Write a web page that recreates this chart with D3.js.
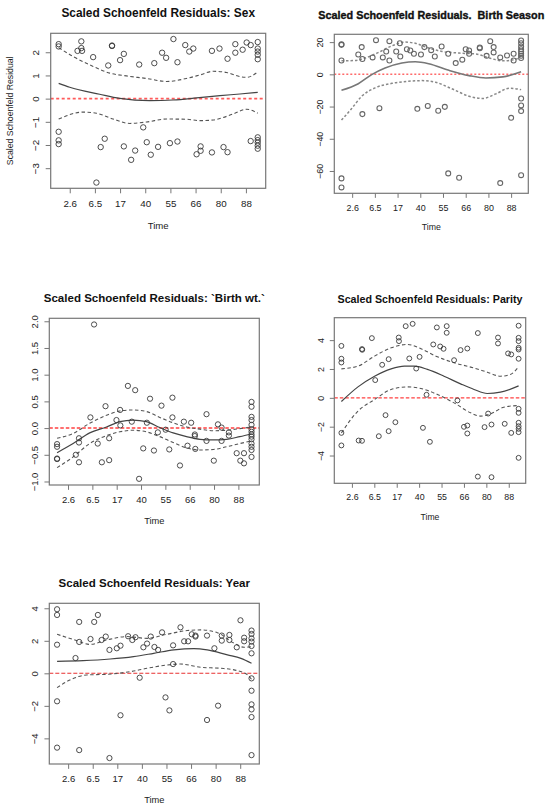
<!DOCTYPE html>
<html>
<head>
<meta charset="utf-8">
<script src="https://cdn.jsdelivr.net/npm/d3@7"></script>
<style>
  html, body { margin: 0; padding: 0; background: #fff; }
  svg { display: block; font-family: "Liberation Sans", Arial, sans-serif; }
  text { white-space: pre; }
</style>
</head>
<body>
<svg id="chart" width="550" height="811"></svg>
<script>
// ---------------- DATA ----------------
// x positions are on the transformed (KM) time axis; tick labels are the time values
const tickPos = [1, 2, 3, 4, 5, 6, 7, 8];
const tickLabels = ["2.6", "6.5", "17", "40", "55", "66", "80", "88"];

// Panel: Sex
const sexPoints = [
  [0.56,2.35],[0.56,2.25],[0.56,-1.43],[0.56,-1.80],[0.56,-1.96],
  [1.31,2.06],[1.46,2.47],[1.46,2.18],[1.49,2.06],[1.93,1.79],[2.06,-3.62],[2.23,-2.09],[2.39,-1.73],
  [2.53,1.43],[2.68,2.29],[2.68,2.27],[3.00,1.66],[3.15,1.93],[3.15,-2.06],[3.44,-2.64],[3.60,-2.24],
  [3.76,1.47],[3.92,-1.24],[4.06,-1.88],[4.22,-2.42],[4.36,1.53],[4.51,-2.08],[4.67,1.98],[4.83,1.76],
  [4.98,-1.92],[5.12,2.57],[5.28,1.57],[5.28,-1.85],[5.59,2.31],[5.75,2.03],[5.91,2.16],[6.04,-2.40],
  [6.20,-2.06],[6.20,-2.25],[6.65,2.06],[6.65,-2.32],[6.95,2.16],[7.11,-2.09],[7.27,1.72],[7.27,-2.31],
  [7.58,2.35],[7.58,1.98],[7.87,2.11],[8.03,2.42],[8.19,2.31],[8.19,-1.83],
  [8.47,2.44],[8.47,2.16],[8.47,2.03],[8.47,1.89],[8.47,1.70],
  [8.47,-1.67],[8.47,-1.79],[8.47,-1.90],[8.47,-2.03],[8.47,-2.16]
];
const sexFit = [[0.56,0.66],[1.00,0.49],[2.19,0.19],[2.99,0.01],[4.18,-0.09],[5.11,-0.06],[6.04,0.03],[6.97,0.13],[7.76,0.20],[8.47,0.27]];
const sexUpper = [[0.56,2.20],[1.13,1.82],[1.93,1.39],[2.59,1.10],[3.25,0.98],[4.05,0.87],[4.85,0.74],[5.64,0.87],[6.17,1.02],[6.70,1.18],[7.23,1.13],[7.76,0.95],[8.03,0.92],[8.47,1.15]];
const sexLower = [[0.56,-0.88],[1.53,-0.58],[2.06,-0.63],[2.72,-0.88],[3.39,-1.07],[4.05,-1.01],[4.85,-0.88],[5.64,-0.89],[6.17,-0.95],[6.70,-0.92],[7.50,-0.66],[8.03,-0.46],[8.47,-0.63]];

// Panel: Birth Season
const seasonPoints = [
  [0.53,18.7],[0.53,18.3],[0.53,8.6],[0.53,-64.6],[0.53,-70.2],
  [1.27,12.3],[1.42,16.9],[1.45,9.5],[1.45,-24.7],[1.90,10.5],[2.05,21.2],[2.20,-21.0],[2.35,10.5],
  [2.50,14.2],[2.64,20.6],[2.64,8.6],[2.94,14.2],[3.10,19.3],[3.12,11.1],[3.41,15.6],[3.56,14.8],
  [3.72,12.8],[3.87,-21.4],[4.03,12.3],[4.18,16.9],[4.33,-19.6],[4.48,15.0],[4.64,11.1],[4.79,-22.6],
  [4.94,17.3],[5.08,-20.2],[5.23,12.8],[5.23,-61.5],[5.56,7.0],[5.71,-64.2],[5.85,9.1],[6.00,15.6],
  [6.15,14.8],[6.15,12.8],[6.62,16.7],[6.62,16.2],[6.92,11.5],[7.08,20.6],[7.23,16.9],[7.23,13.6],
  [7.52,10.5],[7.52,-67.5],[7.82,11.7],[8.00,-27.0],[8.11,12.8],[8.11,8.6],
  [8.44,21.0],[8.44,19.3],[8.44,17.3],[8.44,15.6],[8.44,14.2],[8.44,12.8],[8.44,11.5],[8.44,10.1],
  [8.44,-15.0],[8.44,-19.3],[8.44,-22.8],[8.44,-62.6]
];
const seasonFit = [[0.53,-9.9],[1.27,-5.8],[1.86,-0.2],[2.45,3.9],[3.19,7.0],[3.78,7.8],[4.37,6.6],[5.26,2.5],[6.15,-0.8],[6.89,-2.3],[7.63,-1.6],[8.44,1.6]];
const seasonUpper = [[0.53,8.4],[1.12,8.6],[1.56,10.1],[2.16,13.6],[2.75,17.7],[3.34,20.0],[3.78,19.3],[4.37,16.3],[4.96,14.2],[5.71,13.2],[6.45,12.6],[7.04,10.1],[7.63,8.4],[8.22,9.5],[8.44,11.5]];
const seasonLower = [[0.53,-28.4],[0.97,-21.4],[1.42,-13.6],[2.01,-8.4],[2.75,-5.6],[3.49,-4.3],[4.08,-3.9],[4.67,-4.9],[5.41,-9.1],[6.15,-13.6],[6.74,-15.0],[7.33,-12.1],[7.92,-8.6],[8.44,-9.5]];

// Panel: Birth wt.
const bwPoints = [
  [0.55,-0.30],[0.55,-0.35],[0.55,-0.57],[0.55,-0.58],
  [1.32,-0.50],[1.45,-0.19],[1.45,-0.27],[1.45,-0.64],[1.92,0.20],[2.07,1.94],[2.22,-0.29],[2.39,-0.64],
  [2.54,0.41],[2.69,-0.19],[2.69,-0.60],[2.99,0.15],[3.14,0.34],[3.15,0.05],[3.46,0.79],[3.62,0.12],
  [3.76,0.71],[3.92,-0.95],[4.09,-0.38],[4.24,0.10],[4.37,0.55],[4.53,-0.42],[4.69,-0.08],[4.84,0.42],
  [5.01,-0.03],[5.16,-0.40],[5.29,0.57],[5.29,0.20],[5.60,-0.70],[5.76,0.12],[5.91,-0.33],[6.06,0.10],
  [6.21,-0.12],[6.21,-0.15],[6.23,-0.39],[6.69,0.26],[6.69,-0.24],[6.99,-0.61],[7.16,0.07],[7.31,0.01],
  [7.31,-0.24],[7.61,-0.08],[7.61,-0.14],[7.93,-0.47],[8.08,-0.61],[8.23,-0.66],[8.23,-0.47],
  [8.54,0.49],[8.54,0.40],[8.54,0.21],[8.54,0.15],[8.54,0.06],[8.54,-0.02],[8.54,-0.07],[8.54,-0.12],
  [8.54,-0.16],[8.54,-0.21],[8.54,-0.29],[8.54,-0.35],[8.54,-0.41],[8.54,-0.54]
];
const bwFit = [[0.55,-0.46],[1.21,-0.29],[1.89,-0.09],[2.58,0.02],[3.13,0.12],[3.67,0.15],[4.22,0.12],[4.77,0.01],[5.32,-0.09],[5.87,-0.16],[6.42,-0.21],[6.97,-0.22],[7.52,-0.21],[8.06,-0.16],[8.54,-0.11]];
const bwUpper = [[0.55,-0.19],[1.21,-0.10],[1.89,0.09],[2.58,0.24],[3.13,0.32],[3.67,0.34],[4.22,0.31],[4.77,0.20],[5.32,0.10],[5.87,0.02],[6.42,-0.02],[6.97,-0.05],[7.52,-0.04],[8.06,-0.01],[8.54,0.02]];
const bwLower = [[0.55,-0.74],[1.21,-0.54],[1.89,-0.29],[2.58,-0.14],[3.13,-0.07],[3.67,-0.04],[4.22,-0.07],[4.77,-0.16],[5.32,-0.27],[5.87,-0.37],[6.42,-0.41],[6.97,-0.40],[7.52,-0.35],[8.06,-0.29],[8.54,-0.24]];

// Panel: Parity
const parityPoints = [
  [0.53,3.60],[0.53,2.71],[0.53,2.45],[0.53,-2.43],[0.53,-3.30],
  [1.30,-2.96],[1.45,3.38],[1.45,-2.98],[1.46,3.33],[1.89,4.14],[2.04,1.23],[2.20,-2.66],[2.35,2.29],
  [2.50,-1.20],[2.64,2.68],[2.64,-2.31],[2.94,-1.69],[3.09,4.18],[3.10,3.93],[3.40,4.97],[3.56,2.73],
  [3.71,5.13],[3.87,2.03],[4.02,2.84],[4.17,-2.08],[4.33,0.21],[4.48,-3.05],[4.63,3.70],[4.79,4.88],
  [4.94,3.56],[5.09,3.40],[5.23,4.97],[5.23,4.51],[5.56,2.61],[5.71,-0.18],[5.85,3.31],[6.00,-2.01],
  [6.15,3.42],[6.15,-1.92],[6.15,-2.47],[6.62,4.49],[6.62,-5.46],[6.92,-2.03],[7.08,-1.09],[7.23,-1.85],
  [7.23,-5.50],[7.52,4.18],[7.52,3.77],[7.82,-1.80],[7.97,3.08],[8.11,3.01],[8.11,-2.43],
  [8.44,5.00],[8.44,4.16],[8.44,3.93],[8.44,3.47],[8.44,3.35],[8.44,2.71],
  [8.44,-0.76],[8.44,-1.04],[8.44,-1.73],[8.44,-1.97],[8.44,-2.15],[8.44,-2.38],[8.44,-4.16]
];
const parityFit = [[0.53,-0.25],[1.27,0.76],[2.01,1.50],[2.75,2.01],[3.34,2.20],[3.78,2.20],[4.37,1.97],[5.11,1.50],[5.85,0.97],[6.45,0.58],[7.04,0.30],[7.63,0.39],[8.44,0.83]];
const parityUpper = [[0.53,2.01],[1.27,2.20],[2.01,2.89],[2.75,3.47],[3.49,3.70],[4.08,3.40],[4.82,2.84],[5.56,2.43],[6.30,2.13],[7.04,1.78],[7.63,1.50],[8.07,1.62],[8.44,2.15]];
const parityLower = [[0.53,-2.43],[1.27,-0.92],[2.01,-0.12],[2.75,0.58],[3.49,0.76],[4.08,0.65],[4.82,0.23],[5.56,-0.35],[6.30,-1.04],[6.74,-1.27],[7.19,-1.11],[7.78,-0.65],[8.44,-0.53]];

// Panel: Year
const yearPoints = [
  [0.55,3.94],[0.55,3.59],[0.55,1.76],[0.55,-1.72],[0.55,-4.57],
  [1.30,0.94],[1.45,3.16],[1.45,1.93],[1.45,-4.72],[1.91,2.11],[2.06,3.16],[2.21,3.59],[2.36,2.05],
  [2.53,2.26],[2.68,1.44],[2.68,-5.21],[2.98,1.54],[3.13,1.70],[3.13,-2.58],[3.44,2.28],[3.61,2.05],
  [3.74,2.22],[3.91,-0.27],[4.06,1.60],[4.21,1.83],[4.36,2.26],[4.51,1.62],[4.66,1.44],[4.82,2.52],
  [4.96,-1.48],[5.12,-2.28],[5.27,1.72],[5.27,0.57],[5.57,2.83],[5.72,1.97],[5.88,1.97],[6.03,2.40],
  [6.18,2.32],[6.18,2.26],[6.65,2.32],[6.65,-2.87],[6.95,1.54],[7.10,-1.99],[7.25,2.32],[7.25,2.01],
  [7.56,2.36],[7.56,2.05],[7.86,1.60],[8.01,3.26],[8.16,1.97],[8.16,2.19],
  [8.46,2.63],[8.46,2.42],[8.46,2.15],[8.46,1.95],[8.46,1.68],[8.46,1.23],
  [8.46,-0.31],[8.46,-1.07],[8.46,-1.91],[8.46,-2.22],[8.46,-2.69],[8.46,-5.03]
];
const yearFit = [[0.55,0.74],[1.61,0.78],[2.71,0.88],[3.66,1.03],[4.48,1.23],[5.30,1.44],[6.12,1.52],[6.66,1.44],[7.48,1.13],[8.03,0.92],[8.46,0.62]];
const yearUpper = [[0.55,2.40],[1.20,2.09],[1.89,1.78],[2.57,2.05],[3.39,2.26],[4.21,2.15],[5.02,2.40],[5.84,2.63],[6.39,2.67],[7.07,2.50],[7.75,1.85],[8.16,1.60],[8.46,1.64]];
const yearLower = [[0.55,-0.88],[1.07,-0.41],[1.75,-0.10],[2.57,-0.06],[3.52,0.10],[4.21,0.31],[5.02,0.51],[5.57,0.57],[6.39,0.37],[7.21,0.31],[7.75,0.21],[8.30,-0.10],[8.46,-0.37]];

const titles = [
  "Scaled Schoenfeld Residuals: Sex",
  "Scaled Schoenfeld Residuals.\u00A0\u00A0Birth Season",
  "Scaled Schoenfeld Residuals: `Birth wt.`",
  "Scaled Schoenfeld Residuals: Parity",
  "Scaled Schoenfeld Residuals: Year"
];
const yTickSets = [
  [-3, -2, -1, 0, 1, 2],
  [-60, -40, -20, 0, 20],
  [-1.0, -0.5, 0.0, 0.5, 1.0, 1.5, 2.0],
  [-4, -2, 0, 2, 4],
  [-4, -2, 0, 2, 4]
];
const xLabel = "Time";
const yLabel = "Scaled Schoenfeld Residual";

// ---------------- LAYOUT ----------------
const panels = [
  { pts: sexPoints, fit: sexFit, up: sexUpper, lo: sexLower, title: titles[0], yt: yTickSets[0], fmt: d3.format("d"),
    box: [50.7, 33.3, 265.7, 188.3], s: 1.0, ylab: true, curveCol: "#444", dashCol: "#555", red: "#ff5a5a", redW: 1.6, redDash: "3,2.5" },
  { pts: seasonPoints, fit: seasonFit, up: seasonUpper, lo: seasonLower, title: titles[1], yt: yTickSets[1], fmt: d3.format("d"),
    box: [334.3, 34.3, 528.3, 193.3], s: 0.91, ylab: false, curveCol: "#777", dashCol: "#888", red: "#ff6a6a", redW: 1.5, redDash: "2,2", bold: true },
  { pts: bwPoints, fit: bwFit, up: bwUpper, lo: bwLower, title: titles[2], yt: yTickSets[2], fmt: d3.format(".1f"),
    box: [49.3, 318.3, 259.3, 485], s: 0.97, ylab: false, curveCol: "#444", dashCol: "#555", red: "#ff4040", redW: 1.5, redDash: "3.5,2" },
  { pts: parityPoints, fit: parityFit, up: parityUpper, lo: parityLower, title: titles[3], yt: yTickSets[3], fmt: d3.format("d"),
    box: [334.3, 317.7, 525.7, 483.3], s: 0.9, ylab: false, curveCol: "#444", dashCol: "#555", red: "#ff4040", redW: 1.4, redDash: "3.5,2" },
  { pts: yearPoints, fit: yearFit, up: yearUpper, lo: yearLower, title: titles[4], yt: yTickSets[4], fmt: d3.format("d"),
    box: [49.3, 603.3, 259.3, 764], s: 0.97, ylab: false, curveCol: "#444", dashCol: "#555", red: "#e83030", redW: 1.1, redDash: "4,2" }
];

const svg = d3.select("#chart");

function padded(ext) {
  const r = ext[1] - ext[0];
  return [ext[0] - 0.04 * r, ext[1] + 0.04 * r];
}

panels.forEach(p => {
  const [x0, y0, x1, y1] = p.box;
  const g = svg.append("g");
  const allY = p.pts.map(d => d[1]).concat(p.up.map(d => d[1]), p.lo.map(d => d[1]), p.fit.map(d => d[1]));
  const x = d3.scaleLinear().domain(padded(d3.extent(p.pts, d => d[0]))).range([x0, x1]);
  const y = d3.scaleLinear().domain(padded(d3.extent(allY))).range([y1, y0]);
  const s = p.s;
  const tickFont = 9.8 * s;

  // zero reference line
  g.append("line")
    .attr("x1", x0).attr("x2", x1).attr("y1", y(0)).attr("y2", y(0))
    .attr("stroke", p.red).attr("stroke-width", p.redW).attr("stroke-dasharray", p.redDash);

  const line = d3.line().x(d => x(d[0])).y(d => y(d[1])).curve(d3.curveMonotoneX);
  g.append("path").datum(p.fit).attr("d", line)
    .attr("fill", "none").attr("stroke", p.curveCol).attr("stroke-width", p.bold ? 1.6 : 1.2);
  [p.up, p.lo].forEach(band => {
    g.append("path").datum(band).attr("d", line)
      .attr("fill", "none").attr("stroke", p.dashCol).attr("stroke-width", p.bold ? 1.5 : 1.1)
      .attr("stroke-dasharray", p.bold ? "2.5,2" : "3.5,2.5");
  });

  // points
  g.append("g").selectAll("circle").data(p.pts).join("circle")
    .attr("cx", d => x(d[0])).attr("cy", d => y(d[1]))
    .attr("r", 2.5 * s + 0.2)
    .attr("fill", "none").attr("stroke", p.bold ? "#666" : "#3a3a3a").attr("stroke-width", p.bold ? 1.1 : 0.9);

  // box
  g.append("rect").attr("x", x0).attr("y", y0).attr("width", x1 - x0).attr("height", y1 - y0)
    .attr("fill", "none").attr("stroke", "#777").attr("stroke-width", 1.2);

  // x axis
  const xa = g.append("g").attr("transform", `translate(0,${y1})`)
    .call(d3.axisBottom(x).tickValues(tickPos).tickFormat((d, i) => tickLabels[i]).tickSize(5 * s).tickPadding(7 * s));
  xa.select(".domain").remove();
  xa.selectAll("line").attr("stroke", "#777");
  xa.selectAll("text").attr("font-size", tickFont).attr("fill", "#222").attr("font-family", null);

  // y axis
  const ya = g.append("g").attr("transform", `translate(${x0},0)`)
    .call(d3.axisLeft(y).tickValues(p.yt).tickFormat(p.fmt).tickSize(5 * s));
  ya.select(".domain").remove();
  ya.selectAll("line").attr("stroke", "#777");
  ya.selectAll("text")
    .attr("font-size", tickFont).attr("fill", "#222").attr("font-family", null)
    .attr("text-anchor", "middle").attr("dy", null)
    .attr("x", 0).attr("y", -12 * s)
    .attr("transform", "rotate(-90)");

  // title
  g.append("text").attr("x", (x0 + x1) / 2).attr("y", y0 - 16.5 * s)
    .attr("text-anchor", "middle").attr("font-weight", "bold")
    .attr("font-size", 11.9 * s).attr("fill", "#111")
    .attr("stroke", p.bold ? "#111" : "none").attr("stroke-width", p.bold ? 0.35 : 0)
    .text(p.title);

  // x label
  g.append("text").attr("x", (x0 + x1) / 2).attr("y", y1 + 40.5 * s)
    .attr("text-anchor", "middle").attr("font-size", 9.6 * s).attr("fill", "#222")
    .text(xLabel);

  if (p.ylab) {
    g.append("text")
      .attr("transform", `translate(${x0 - 38},${(y0 + y1) / 2}) rotate(-90)`)
      .attr("text-anchor", "middle").attr("font-size", 8.7).attr("fill", "#222")
      .text(yLabel);
  }
});
</script>
</body>
</html>
